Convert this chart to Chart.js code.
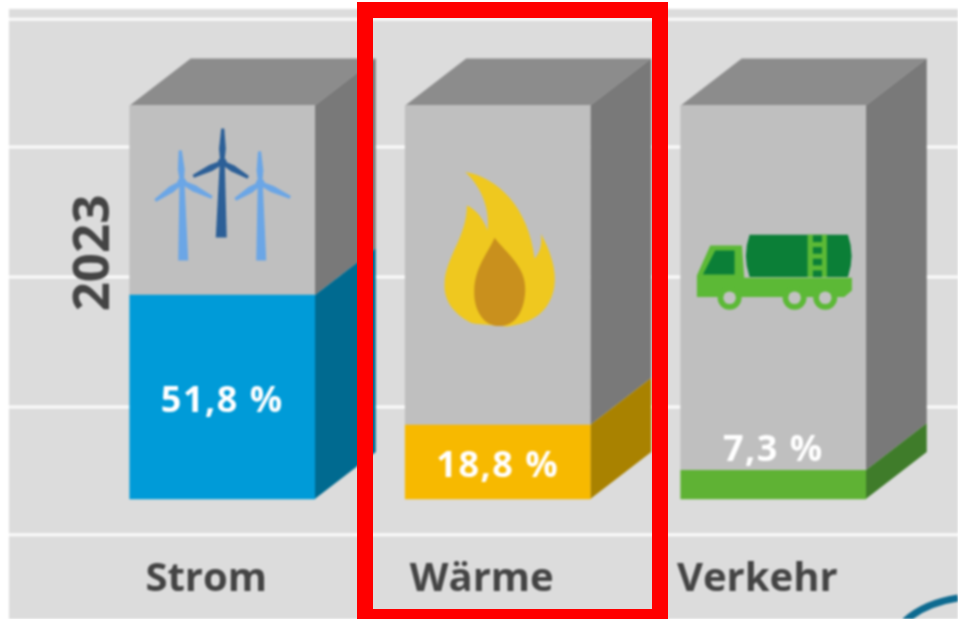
<!DOCTYPE html>
<html><head><meta charset="utf-8">
<script src="https://cdn.jsdelivr.net/npm/chart.js@4/dist/chart.umd.min.js"></script>
<style>
html,body{margin:0;padding:0;background:#fff;overflow:hidden}
#wrap{position:relative;width:958px;height:619px;overflow:hidden}
canvas{display:block;filter:blur(0.9px)}
#frame{position:absolute;left:357px;top:2px;width:311px;height:623px;box-sizing:border-box;border:16px solid #ff0000}
</style></head><body>
<div id="wrap"><canvas id="c" width="958" height="619"></canvas><div id="frame"></div></div>
<script>
const categories = ["Strom", "Wärme", "Verkehr"];
const shareValues = [51.8, 18.8, 7.3];
const restValues = [48.2, 81.2, 92.7];
const gridTicks = [-9.1, 23.4, 56.4, 89.4, 121.9];
const yearLabel = "2023";
const shareColors = ["#009bd8", "#f7b900", "#5fb234"];
const sideColors = ["#006a90", "#a98200", "#3f7c2a"];
const FONT = '"Open Sans"';
const DX = 61, DY = 47;

function fmt(v){ return v.toFixed(1).replace('.', ',') + ' %'; }

function poly(ctx, pts, color){
  ctx.fillStyle = color; ctx.beginPath();
  pts.forEach((p,i)=> i ? ctx.lineTo(p[0],p[1]) : ctx.moveTo(p[0],p[1]));
  ctx.closePath(); ctx.fill();
}
function turbine(ctx, c, hx,hy, bx,by, bw, up, left, right){
  poly(ctx,[[hx-2.5,hy],[hx+2.5,hy],[bx+bw/2,by],[bx-bw/2,by]],c);
  [up,left,right].forEach(t=>{
    const dx=t[0]-hx, dy=t[1]-hy, l=Math.hypot(dx,dy), nx=-dy/l*3.4, ny=dx/l*3.4;
    const mx=hx+dx*.4, my=hy+dy*.4;
    ctx.fillStyle=c; ctx.beginPath(); ctx.moveTo(hx+nx*.6,hy+ny*.6);
    ctx.lineTo(mx+nx,my+ny); ctx.lineTo(t[0]+nx*.45,t[1]+ny*.45); ctx.lineTo(t[0]-nx*.45,t[1]-ny*.45); ctx.lineTo(mx-nx,my-ny); ctx.lineTo(hx-nx*.6,hy-ny*.6); ctx.closePath(); ctx.fill();
  });
  ctx.fillStyle=c; ctx.beginPath(); ctx.arc(hx,hy,4.5,0,7); ctx.fill();
}
function drawWind(ctx,x,top){
  // offsets relative to bar centre and front-face top
  ctx.save(); ctx.translate(x-222, top-105);
  turbine(ctx,'#6ba6e6',181.7,181.7,183,260,10,[180,150],[155,200],[211.7,197]);
  turbine(ctx,'#6ba6e6',260,183,261,260,10,[259.3,151],[235,199],[290,197]);
  turbine(ctx,'#2c5f97',222,162,221,237,11,[222.5,128],[193,176],[248,177]);
  ctx.restore();
}
function drawFlame(ctx,x,top){
  ctx.save(); ctx.translate(x-97.5, top+45); ctx.scale(1/3,1/3);
  ctx.fillStyle='#efc81f'; ctx.beginPath();
  ctx.moveTo(195,65);
  ctx.bezierCurveTo(290,80,385,170,403,325);
  ctx.bezierCurveTo(425,300,425,270,422,250);
  ctx.bezierCurveTo(450,300,470,360,462,410);
  ctx.bezierCurveTo(450,480,400,520,320,528);
  ctx.lineTo(225,520);
  ctx.lineTo(212,517);
  ctx.bezierCurveTo(160,490,130,450,133,400);
  ctx.bezierCurveTo(135,320,200,260,200,165);
  ctx.bezierCurveTo(225,175,250,205,262,240);
  ctx.bezierCurveTo(270,180,245,110,195,65);
  ctx.closePath(); ctx.fill();
  ctx.fillStyle='#c9901d'; ctx.beginPath();
  ctx.moveTo(283,262);
  ctx.bezierCurveTo(320,310,378,350,375,420);
  ctx.bezierCurveTo(372,490,340,527,298,527);
  ctx.bezierCurveTo(250,527,220,480,222,420);
  ctx.bezierCurveTo(224,350,262,310,283,262);
  ctx.closePath(); ctx.fill();
  ctx.restore();
}
function drawTruck(ctx,x,top){
  const L='#5cb936', D='#0b7f37', G='#c2c2c2';
  ctx.save(); ctx.translate(x-103, top+95); ctx.scale(1/3,1/3);
  poly(ctx,[[80,225],[120,135],[215,135],[222,232],[545,232],[545,270],[522,290],[80,290]],L);
  poly(ctx,[[98,222],[135,150],[193,150],[193,222]],D);
  ctx.fillStyle=D; ctx.beginPath();
  ctx.moveTo(238,103); ctx.lineTo(533,103);
  ctx.quadraticCurveTo(555,166,533,230); ctx.lineTo(238,230);
  ctx.quadraticCurveTo(216,166,238,103); ctx.closePath(); ctx.fill();
  ctx.fillStyle=L; ctx.fillRect(412,103,58,127);
  ctx.fillStyle=D; [105,140,175,210].forEach(y=>ctx.fillRect(428,y,27,20));
  [178,373,465].forEach(wx=>{
    ctx.fillStyle=L; ctx.beginPath(); ctx.arc(wx,292,36,0,7); ctx.fill();
    ctx.fillStyle=G; ctx.beginPath(); ctx.arc(wx,292,19,0,7); ctx.fill();
  });
  ctx.restore();
}

const scene = {
  id:'scene',
  beforeDraw(chart){
    const ctx=chart.ctx, y=chart.scales.y;
    ctx.save();
    ctx.fillStyle='#fff'; ctx.fillRect(0,0,chart.width,chart.height);
    ctx.fillStyle='#dcdcdc'; ctx.fillRect(9,9,chart.width-9,chart.height-9);
    ctx.strokeStyle='#fbfbfb'; ctx.lineWidth=3;
    y.ticks.forEach(t=>{
      const p=y.getPixelForValue(t.value);
      ctx.beginPath(); ctx.moveTo(9,p); ctx.lineTo(chart.width,p); ctx.stroke();
    });
    // partly visible curve at the lower right of the source image
    ctx.strokeStyle='#0d6a90'; ctx.lineWidth=7; ctx.beginPath();
    ctx.moveTo(905,621); ctx.quadraticCurveTo(925,603,958,598); ctx.stroke();
    ctx.restore();
  },
  beforeDatasetsDraw(chart){
    const ctx=chart.ctx, y=chart.scales.y;
    const share=chart.getDatasetMeta(0).data;
    share.forEach((el,i)=>{
      const hw=el.width/2, l=el.x-hw, r=el.x+hw;
      const top=y.getPixelForValue(100), base=y.getPixelForValue(0), lvl=el.y;
      poly(ctx,[[l,top],[r,top],[r+DX,top-DY],[l+DX,top-DY]],'#8c8c8c');
      poly(ctx,[[r,top],[r+DX,top-DY],[r+DX,lvl-DY],[r,lvl]],'#797979');
      poly(ctx,[[r,lvl],[r+DX,lvl-DY],[r+DX,base-DY],[r,base]],sideColors[i]);
    });
  },
  afterDatasetsDraw(chart){
    const ctx=chart.ctx, y=chart.scales.y;
    const share=chart.getDatasetMeta(0).data;
    const top=y.getPixelForValue(100);
    drawWind(ctx,share[0].x,top);
    drawFlame(ctx,share[1].x,top);
    drawTruck(ctx,share[2].x,top);
    ctx.save();
    ctx.textAlign='center'; ctx.textBaseline='middle';
    ctx.fillStyle='#fff'; ctx.font='700 36px '+FONT;
    ctx.letterSpacing='1.5px';
    share.forEach((el,i)=>{
      const ly = shareValues[i] < 10 ? el.y-20 : (el.y+el.base)/2+5;
      ctx.fillText(fmt(shareValues[i]),el.x,ly);
    });
    ctx.letterSpacing='0px';
    ctx.translate(94,253); ctx.rotate(-Math.PI/2);
    ctx.fillStyle='#444'; ctx.font='700 51px '+FONT;
    ctx.fillText(yearLabel,0,0);
    ctx.restore();
  }
};

new Chart(document.getElementById('c'),{
  type:'bar',
  data:{labels:categories,datasets:[
    {label:'Anteil',data:shareValues,backgroundColor:shareColors,barThickness:185},
    {label:'Rest',data:restValues,backgroundColor:'#bfbfbf',barThickness:185}
  ]},
  plugins:[scene],
  options:{
    responsive:false,animation:false,
    layout:{padding:{left:84.5,right:47,top:9,bottom:0}},
    plugins:{legend:{display:false},tooltip:{enabled:false},title:{display:false}},
    scales:{
      x:{stacked:true,grid:{display:false},border:{display:false},
        afterFit(s){s.height=74;},
        ticks:{autoSkip:false,maxRotation:0,padding:3,labelOffset:-16,color:'#444',font:{family:FONT,weight:'700',size:40}}},
      y:{stacked:true,min:-11.68,max:124.49,grid:{display:false},border:{display:false},
        afterFit(s){s.width=0;},
        afterBuildTicks(s){s.ticks=gridTicks.map(v=>({value:v}));},
        ticks:{display:false}}
    }
  }
});
</script></body></html>
